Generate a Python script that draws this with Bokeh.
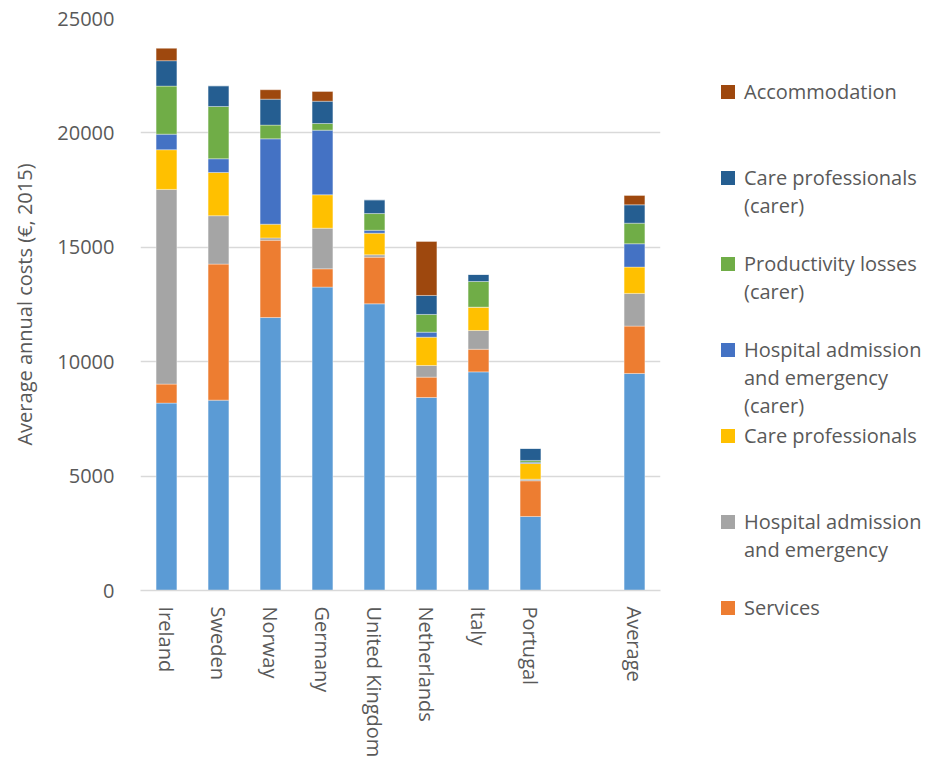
from bokeh.plotting import figure
from bokeh.models import FactorRange, Range1d, ColumnDataSource, FixedTicker, Div
from bokeh.layouts import row
from bokeh.embed import file_html
from bokeh.resources import INLINE

# ---- data ----
factors = ["Ireland", "Sweden", "Norway", "Germany", "United Kingdom",
           "Netherlands", "Italy", "Portugal", " ", "Average"]
countries = ["Ireland", "Sweden", "Norway", "Germany", "United Kingdom",
             "Netherlands", "Italy", "Portugal", "Average"]

base       = [8190, 8320, 11930, 13260, 12530, 8435, 9555, 3235, 9485]
services   = [830, 5945, 3380, 800, 2040, 890, 990, 1560, 2070]
hospital   = [8510, 2115, 100, 1775, 100, 510, 820, 70, 1430]
care_prof  = [1735, 1890, 600, 1460, 945, 1235, 1020, 685, 1150]
hosp_carer = [680, 600, 3730, 2825, 130, 220, 0, 60, 1020]
prod_carer = [2100, 2285, 600, 290, 730, 775, 1120, 75, 900]
care_carer = [1110, 905, 1135, 975, 600, 830, 305, 525, 800]
accomm     = [540, 0, 410, 425, 0, 2360, 0, 0, 410]

series_keys = ["base", "services", "hospital", "care_prof", "hosp_carer",
               "prod_carer", "care_carer", "accomm"]
series_colors = ["#5B9BD5", "#ED7D31", "#A5A5A5", "#FFC000", "#4472C4",
                 "#70AD47", "#255E91", "#9E480E"]

# legend entries (top to bottom), each wrapped onto lines
legend_entries = [
    ("accomm", ["Accommodation"]),
    ("care_carer", ["Care professionals", "(carer)"]),
    ("prod_carer", ["Productivity losses", "(carer)"]),
    ("hosp_carer", ["Hospital admission", "and emergency", "(carer)"]),
    ("care_prof", ["Care professionals"]),
    ("hospital", ["Hospital admission", "and emergency"]),
    ("services", ["Services"]),
]

y_ticks = [0, 5000, 10000, 15000, 20000, 25000]

FONT = "Open Sans"
TXT = "#595959"

src = ColumnDataSource(dict(x=countries, base=base, services=services,
                            hospital=hospital, care_prof=care_prof,
                            hosp_carer=hosp_carer, prod_carer=prod_carer,
                            care_carer=care_carer, accomm=accomm))

p = figure(x_range=FactorRange(*factors, range_padding=0, factor_padding=0),
           y_range=Range1d(0, 25000), width=670, height=764,
           output_backend="svg", toolbar_location=None,
           min_border_left=140, min_border_right=10, min_border_top=18,
           min_border_bottom=174)
p.outline_line_color = None
p.background_fill_color = "white"

p.vbar_stack(series_keys, x="x", width=0.4, source=src, color=series_colors,
             line_color="white", line_alpha=0.35, line_width=1)

p.ygrid.grid_line_color = "#D9D9D9"
p.ygrid.grid_line_width = 1.5
p.xgrid.grid_line_color = None

p.yaxis.ticker = FixedTicker(ticks=y_ticks)
p.yaxis.axis_line_color = None
p.yaxis.major_tick_line_color = None
p.yaxis.minor_tick_line_color = None
p.yaxis.major_label_standoff = 20
p.yaxis.major_label_text_font = FONT
p.yaxis.major_label_text_font_size = "20px"
p.yaxis.major_label_text_color = TXT
p.yaxis.axis_label = "Average annual costs (€, 2015)"
p.yaxis.axis_label_text_font = FONT
p.yaxis.axis_label_text_font_size = "20px"
p.yaxis.axis_label_text_font_style = "normal"
p.yaxis.axis_label_text_color = TXT
p.yaxis.axis_label_standoff = 16

p.xaxis.axis_line_color = "#D9D9D9"
p.xaxis.axis_line_width = 1.5
p.xaxis.major_tick_line_color = None
p.xaxis.minor_tick_line_color = None
p.xaxis.major_label_orientation = "vertical"
p.xaxis.major_label_standoff = 10
p.xaxis.major_label_text_font = FONT
p.xaxis.major_label_text_font_size = "20px"
p.xaxis.major_label_text_color = TXT

# ---- legend panel (HTML text beside the plot) ----
color_of = dict(zip(series_keys, series_colors))
parts = []
for i, (key, lines) in enumerate(legend_entries):
    cy = 87 + i * 86
    parts.append(
        f'<div style="position:absolute;left:46px;top:{cy - 7}px;'
        f'width:14px;height:14px;background:{color_of[key]};"></div>')
    parts.append(
        f'<div style="position:absolute;left:69px;top:{cy - 14}px;'
        f'line-height:28px;white-space:nowrap;">' + "<br>".join(lines) +
        '</div>')
legend_html = (
    f'<div style="position:relative;width:259px;height:764px;'
    f"font-family:'{FONT}';font-size:20px;color:{TXT};\">" +
    "".join(parts) + "</div>")
legend_div = Div(text=legend_html, width=259, height=764)

layout = row(p, legend_div)
open("out.html", "w").write(file_html(layout, INLINE))
